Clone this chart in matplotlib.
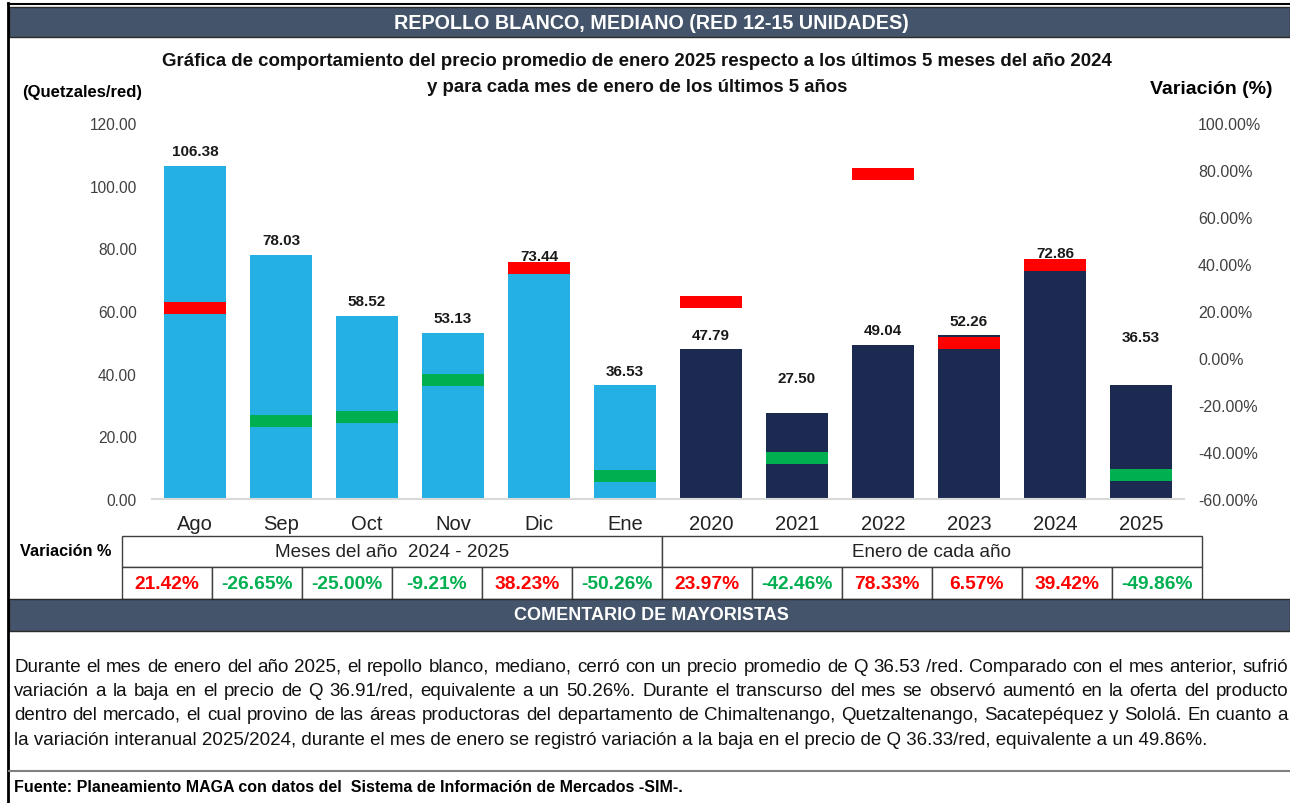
import math

import matplotlib
matplotlib.use('Agg')
import matplotlib.pyplot as plt
from matplotlib.patches import Rectangle
from matplotlib.backends.backend_agg import get_hinting_flag

# fuentes: Liberation Sans tiene las mismas métricas que Arial
plt.rcParams['font.family'] = ['Liberation Sans', 'DejaVu Sans']

W, H = 1290, 804

# datos
categorias = ['Ago', 'Sep', 'Oct', 'Nov', 'Dic', 'Ene',
              '2020', '2021', '2022', '2023', '2024', '2025']
precios = [106.38, 78.03, 58.52, 53.13, 73.44, 36.53,
           47.79, 27.50, 49.04, 52.26, 72.86, 36.53]
variacion = [21.42, -26.65, -25.00, -9.21, 38.23, -50.26,
             23.97, -42.46, 78.33, 6.57, 39.42, -49.86]
grupos = ['Meses del año  2024 - 2025', 'Enero de cada año']

# separación (px) entre la etiqueta y la barra, tal como en Excel
sep_etiqueta = [15, 15, 15, 15, 13, 14, 14, 35, 15, 14, 18, 48]

parrafo = [
    'Durante el mes de enero del año 2025, el repollo blanco, mediano, cerró con un precio promedio de Q 36.53 /red. Comparado con el mes anterior, sufrió',
    'variación a la baja en el precio de Q 36.91/red, equivalente a un 50.26%. Durante el transcurso del mes se observó aumentó en la oferta del producto',
    'dentro del mercado, el cual provino de las áreas productoras del departamento de Chimaltenango, Quetzaltenango, Sacatepéquez y Sololá. En cuanto a',
    'la variación interanual 2025/2024, durante el mes de enero se registró variación a la baja en el precio de Q 36.33/red, equivalente a un 49.86%.',
]

AZUL_CLARO = '#25B0E4'
AZUL_OSCURO = '#1C2951'
ROJO = '#FF0000'
VERDE = '#00B050'
GRIS_BARRA = '#44546A'

fig = plt.figure(figsize=(W / 100, H / 100), dpi=100)
renderer = fig.canvas.get_renderer()


def ajuste_base(texto):
    """corrección sub-píxel para que todas las palabras queden en la misma línea base"""
    try:
        font = renderer._prepare_font(texto.get_fontproperties())
        font.set_text(texto.get_text(), 0, flags=get_hinting_flag())
        _, h = font.get_width_height()
        d = font.get_descent() / 64
        alto = h / 64
        return math.floor(alto) - math.floor(alto - d) - d
    except Exception:
        return 0.0


# capa de fondo en coordenadas de píxel (marcos, tabla, textos)
bg = fig.add_axes([0, 0, 1, 1])
bg.set_xlim(0, W)
bg.set_ylim(H, 0)
bg.axis('off')

bg.plot([8, 8], [4, H], color='black', lw=2)
bg.plot([8, W], [5, 5], color='black', lw=1.5)
bg.add_patch(Rectangle((9, 8), W - 9, 30, fc=GRIS_BARRA, ec='#2b2b2b', lw=1))
bg.text(651, 23.5, 'REPOLLO BLANCO, MEDIANO (RED 12-15 UNIDADES)', color='white',
        fontsize=14.2, fontweight='bold', ha='center', va='center')

bg.text(637, 62, 'Gráfica de comportamiento del precio promedio de enero 2025 respecto a los últimos 5 meses del año 2024',
        fontsize=13.4, fontweight='bold', ha='center', va='center', color='#111111')
bg.text(637, 88, 'y para cada mes de enero de los últimos 5 años',
        fontsize=13.4, fontweight='bold', ha='center', va='center', color='#111111')
bg.text(22, 93, '(Quetzales/red)', fontsize=12, fontweight='bold', ha='left', va='center')
bg.text(1272, 89, 'Variación (%)', fontsize=14, fontweight='bold', ha='right', va='center')

# tabla de variaciones
x0, ancho = 122, 90
bg.text(20, 552, 'Variación %', fontsize=11.7, fontweight='bold', ha='left', va='center')
for g, nombre in enumerate(grupos):
    bg.add_patch(Rectangle((x0 + g * 6 * ancho, 537), 6 * ancho, 31, fc='white', ec='#404040', lw=1))
    bg.text(x0 + g * 6 * ancho + 3 * ancho, 552.5, nombre, fontsize=13.6, ha='center', va='center', color='#222222')
for i, v in enumerate(variacion):
    bg.add_patch(Rectangle((x0 + i * ancho, 568), ancho, 32, fc='white', ec='#404040', lw=1))
    bg.text(x0 + i * ancho + ancho / 2, 584.5, f'{v:.2f}%', fontsize=13.8, fontweight='bold',
            ha='center', va='center', color=ROJO if v > 0 else VERDE)

bg.add_patch(Rectangle((9, 600), W - 9, 32, fc=GRIS_BARRA, ec='#2b2b2b', lw=1))
bg.text(651, 616, 'COMENTARIO DE MAYORISTAS', color='white',
        fontsize=13, fontweight='bold', ha='center', va='center')

# párrafo justificado (las palabras comparten la línea base)
izq, der = 14, 1288
for n, linea in enumerate(parrafo):
    base = round(671.5 + n * 24.5)
    if n == len(parrafo) - 1:
        t = bg.text(izq, base, linea, fontsize=13.5, ha='left', va='baseline', color='#111111')
        t.set_y(base + ajuste_base(t))
        continue
    palabras = linea.split(' ')
    textos = [bg.text(0, base, p, fontsize=13.5, ha='left', va='baseline', color='#111111') for p in palabras]
    anchos = [t.get_window_extent(renderer).width for t in textos]
    hueco = (der - izq - sum(anchos)) / (len(palabras) - 1)
    x = izq
    for t, a in zip(textos, anchos):
        t.set_position((x, base + ajuste_base(t)))
        x += a + hueco

bg.plot([9, W], [772, 772], color='#7f7f7f', lw=1.5)
bg.text(14, 788, 'Fuente: Planeamiento MAGA con datos del  Sistema de Información de Mercados -SIM-.',
        fontsize=11.5, fontweight='bold', ha='left', va='center')

# gráfica principal
ax = fig.add_axes([152 / W, 1 - 500 / H, 1032 / W, 376 / H])
ax.patch.set_alpha(0)
xs = list(range(len(categorias)))
colores = [AZUL_CLARO] * 6 + [AZUL_OSCURO] * 6
ax.bar(xs, precios, width=0.72, color=colores, zorder=2)
ax.set_xlim(-0.5, len(categorias) - 0.5)
ax.set_ylim(0, 120)
ax.set_yticks(range(0, 121, 20))
ax.set_yticklabels([f'{t:.2f}' for t in range(0, 121, 20)])
ax.set_xticks(xs)
ax.set_xticklabels(categorias)
ax.tick_params(axis='y', length=0, pad=11, labelsize=11.2, labelcolor='#404040')
ax.tick_params(axis='x', length=0, pad=11, labelsize=14.5, labelcolor='#222222')
for s in ['top', 'left', 'right']:
    ax.spines[s].set_visible(False)
ax.spines['bottom'].set_color('#D9D9D9')
ax.spines['bottom'].set_linewidth(1.5)

for x, p, d in zip(xs, precios, sep_etiqueta):
    ax.annotate(f'{p:.2f}', (x, p), xytext=(0, d * 0.72), textcoords='offset points',
                ha='center', va='center', fontsize=11, fontweight='bold', color='#1a1a1a')

# marcadores de variación en el eje derecho
ax2 = ax.twinx()
ax2.set_ylim(-60, 100)
ax2.bar(xs, [5.1] * len(xs), width=0.72, bottom=[v - 2.55 for v in variacion],
        color=[ROJO if v > 0 else VERDE for v in variacion], zorder=3)
ax2.set_yticks(range(-60, 101, 20))
ax2.set_yticklabels([f'{t:.2f}%' for t in range(-60, 101, 20)])
ax2.tick_params(axis='y', length=0, pad=10, labelsize=11.5, labelcolor='#404040')
for s in ['top', 'left', 'right', 'bottom']:
    ax2.spines[s].set_visible(False)

fig.savefig('out.png', dpi=100)
